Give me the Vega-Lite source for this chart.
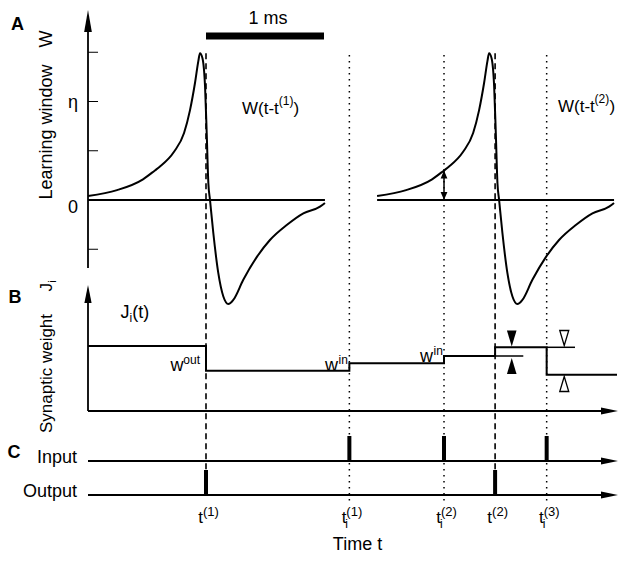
{
"$schema": "https://vega.github.io/schema/vega-lite/v6.json",
"width": 620, "height": 562, "padding": 0, "autosize": {"type": "none"},
"background": "white",
"config": {"view": {"stroke": null}, "text": {"font": "Liberation Sans", "fontSize": 17, "color": "black"}},
"datasets": {
"aTicks": [{"t":0,"t2":0.085,"W":1.5},{"t":0,"t2":0.085,"W":1},{"t":0,"t2":0.085,"W":0.5},{"t":0,"t2":0.085,"W":-0.5}],
"aAxis": [{"t":0,"W":-0.69,"W2":1.8}],
"aArrow": [{"t":0,"W":1.929}],
"zeroLines": [{"t":0,"t2":2.008,"W":0},{"t":2.45,"t2":4.458,"W":0}],
"curves": [
{"t":0.000,"W":0.04,"curve":1},{"t":0.246,"W":0.10,"curve":1},{"t":0.466,"W":0.21,"curve":1},{"t":0.567,"W":0.30,"curve":1},{"t":0.610,"W":0.34,"curve":1},{"t":0.729,"W":0.49,"curve":1},{"t":0.814,"W":0.68,"curve":1},{"t":0.864,"W":0.91,"curve":1},{"t":0.907,"W":1.19,"curve":1},{"t":0.935,"W":1.41,"curve":1},{"t":0.949,"W":1.49,"curve":1},{"t":0.970,"W":1.44,"curve":1},{"t":0.992,"W":1.15,"curve":1},{"t":1.006,"W":0.68,"curve":1},{"t":1.020,"W":0.17,"curve":1},{"t":1.034,"W":0.0,"curve":1},{"t":1.062,"W":-0.335,"curve":1},{"t":1.104,"W":-0.74,"curve":1},{"t":1.147,"W":-0.98,"curve":1},{"t":1.189,"W":-1.056,"curve":1},{"t":1.231,"W":-1.015,"curve":1},{"t":1.316,"W":-0.81,"curve":1},{"t":1.430,"W":-0.58,"curve":1},{"t":1.542,"W":-0.406,"curve":1},{"t":1.684,"W":-0.254,"curve":1},{"t":1.825,"W":-0.135,"curve":1},{"t":1.966,"W":-0.068,"curve":1},{"t":2.008,"W":-0.03,"curve":1},
{"t":2.450,"W":0.04,"curve":2},{"t":2.696,"W":0.10,"curve":2},{"t":2.916,"W":0.21,"curve":2},{"t":3.017,"W":0.30,"curve":2},{"t":3.060,"W":0.34,"curve":2},{"t":3.179,"W":0.49,"curve":2},{"t":3.264,"W":0.68,"curve":2},{"t":3.314,"W":0.91,"curve":2},{"t":3.357,"W":1.19,"curve":2},{"t":3.385,"W":1.41,"curve":2},{"t":3.399,"W":1.49,"curve":2},{"t":3.420,"W":1.44,"curve":2},{"t":3.442,"W":1.15,"curve":2},{"t":3.456,"W":0.68,"curve":2},{"t":3.470,"W":0.17,"curve":2},{"t":3.484,"W":0.0,"curve":2},{"t":3.512,"W":-0.335,"curve":2},{"t":3.554,"W":-0.74,"curve":2},{"t":3.597,"W":-0.98,"curve":2},{"t":3.639,"W":-1.056,"curve":2},{"t":3.681,"W":-1.015,"curve":2},{"t":3.766,"W":-0.81,"curve":2},{"t":3.880,"W":-0.58,"curve":2},{"t":3.992,"W":-0.406,"curve":2},{"t":4.134,"W":-0.254,"curve":2},{"t":4.275,"W":-0.135,"curve":2},{"t":4.416,"W":-0.068,"curve":2},{"t":4.458,"W":-0.03,"curve":2}
],
"scaleBar": [{"t":1.0,"t2":2.0,"W":1.665}],
"dashed": [{"t":1.0,"W":1.49,"W2":-2.741},{"t":3.45,"W":1.49,"W2":-2.741}],
"dotted": [{"t":2.215,"W":1.472,"W2":-3.07},{"t":3.017,"W":1.472,"W2":-3.07},{"t":3.887,"W":1.472,"W2":-3.07}],
"dArrow": [{"t":3.017,"W":0,"W2":0.30}],
"dArrowUp": [{"t":3.017,"W":0.30}],
"dArrowDown": [{"t":3.017,"W":0}],
"aBold": [{"t":-0.597,"W":1.726,"label":"A"}],
"aCenter": [{"t":1.525,"W":1.787,"label":"1 ms"},{"t":-0.127,"W":0.934,"label":"η"},{"t":-0.127,"W":-0.13,"label":"0"}],
"aLeft": [{"t":1.305,"W":0.873,"label":"W(t-t"},{"t":1.742,"W":0.873,"label":")"},{"t":3.983,"W":0.893,"label":"W(t-t"},{"t":4.419,"W":0.893,"label":")"}],
"aSup": [{"t":1.617,"W":0.964,"label":"(1)"},{"t":4.292,"W":0.985,"label":"(2)"}],
"aRot": [{"t":-0.301,"W":0.690,"label":"Learning window"},{"t":-0.301,"W":1.634,"label":"W"}],
"bAxisV": [{"t":0,"J":0,"J2":11.2}],
"bArrowUp": [{"t":0,"J":12.6}],
"bAxisH": [{"t":0,"t2":4.40,"J":0}],
"bArrowRight": [{"t":4.4915,"J":0}],
"step": [{"t":0,"J":6.5},{"t":1.0,"J":4.03},{"t":2.215,"J":4.77},{"t":3.017,"J":5.5},{"t":3.45,"J":6.37},{"t":3.887,"J":3.63},{"t":4.483,"J":3.63}],
"bShort": [{"t":3.45,"t2":3.689,"J":5.5},{"t":3.887,"t2":4.127,"J":6.37}],
"triFillDown": [{"t":3.591,"J":6.45}],
"triFillUp": [{"t":3.591,"J":5.3}],
"triOpenDown": [{"t":4.036,"J":6.55}],
"triOpenUp": [{"t":4.036,"J":3.45}],
"bBold": [{"t":-0.619,"J":10.77,"label":"B"}],
"bRot": [{"t":-0.301,"J":3.75,"label":"Synaptic weight"},{"t":-0.301,"J":12.37,"label":"J"}],
"bRotSub": [{"t":-0.267,"J":12.95,"label":"i"}],
"bLeft": [{"t":0.275,"J":9.27,"label":"J"},{"t":0.375,"J":9.27,"label":"(t)"}],
"bSub": [{"t":0.352,"J":8.9,"label":"i"}],
"bW": [{"t":0.809,"J":4.0,"label":"w"},{"t":2.119,"J":4.0,"label":"w"},{"t":2.924,"J":4.9,"label":"w"}],
"bSup": [{"t":0.949,"J":4.7,"label":"out"},{"t":2.203,"J":4.7,"label":"in"},{"t":3.008,"J":5.6,"label":"in"}],
"cLines": [{"t":0,"t2":4.40,"c":0},{"t":0,"t2":4.40,"c":1}],
"cArrows": [{"t":4.4915,"c":0},{"t":4.4915,"c":1}],
"inSpikes": [{"t":2.215,"c":1,"c2":1.735},{"t":3.017,"c":1,"c2":1.735},{"t":3.887,"c":1,"c2":1.735}],
"outSpikes": [{"t":1.0,"c":0,"c2":0.735},{"t":3.45,"c":0,"c2":0.735}],
"cBold": [{"t":-0.627,"c":1.079,"label":"C"}],
"cRight": [{"t":-0.093,"c":0.95,"label":"Input"},{"t":-0.093,"c":-0.05,"label":"Output"}],
"cT": [{"t":1.0,"c":-0.832,"label":"t"},{"t":2.215,"c":-0.832,"label":"t"},{"t":3.017,"c":-0.832,"label":"t"},{"t":3.45,"c":-0.832,"label":"t"},{"t":3.887,"c":-0.832,"label":"t"}],
"cSup": [{"t":1.0,"c":-0.603,"label":"(1)"},{"t":2.215,"c":-0.603,"label":"(1)"},{"t":3.017,"c":-0.603,"label":"(2)"},{"t":3.45,"c":-0.603,"label":"(2)"},{"t":3.887,"c":-0.603,"label":"(3)"}],
"cSub": [{"t":2.215,"c":-0.97,"label":"i"},{"t":3.017,"c":-0.97,"label":"i"},{"t":3.887,"c":-0.97,"label":"i"}],
"cTime": [{"t":2.284,"c":-1.618,"label":"Time t"}]
},
"layer": [
{
"layer": [
{"data":{"name":"dotted"},"mark":{"type":"rule","strokeWidth":1.5,"strokeDash":[1.5,4.5],"color":"black"},
 "encoding":{"x":{"field":"t","type":"quantitative","scale":{"domain":[-0.745763,4.508475],"nice":false,"zero":false},"axis":null},
 "y":{"field":"W","type":"quantitative","scale":{"domain":[-3.67513,2.03046],"nice":false,"zero":false},"axis":null},"y2":{"field":"W2"}}},
{"data":{"name":"dashed"},"mark":{"type":"rule","strokeWidth":1.6,"strokeDash":[6,4],"color":"black"},
 "encoding":{"x":{"field":"t","type":"quantitative","scale":{"domain":[-0.745763,4.508475],"nice":false,"zero":false},"axis":null},
 "y":{"field":"W","type":"quantitative","scale":{"domain":[-3.67513,2.03046],"nice":false,"zero":false},"axis":null},"y2":{"field":"W2"}}},
{"data":{"name":"aTicks"},"mark":{"type":"rule","strokeWidth":1,"color":"black"},
 "encoding":{"x":{"field":"t","type":"quantitative","scale":{"domain":[-0.745763,4.508475],"nice":false,"zero":false},"axis":null},"x2":{"field":"t2"},
 "y":{"field":"W","type":"quantitative","scale":{"domain":[-3.67513,2.03046],"nice":false,"zero":false},"axis":null}}},
{"data":{"name":"aAxis"},"mark":{"type":"rule","strokeWidth":1.8,"color":"black"},
 "encoding":{"x":{"field":"t","type":"quantitative","scale":{"domain":[-0.745763,4.508475],"nice":false,"zero":false},"axis":null},
 "y":{"field":"W","type":"quantitative","scale":{"domain":[-3.67513,2.03046],"nice":false,"zero":false},"axis":null},"y2":{"field":"W2"}}},
{"data":{"name":"aArrow"},"mark":{"type":"point","shape":"M0,0L-0.35,2L0.35,2Z","size":484,"filled":true,"color":"black","opacity":1,"strokeWidth":0},
 "encoding":{"x":{"field":"t","type":"quantitative","scale":{"domain":[-0.745763,4.508475],"nice":false,"zero":false},"axis":null},
 "y":{"field":"W","type":"quantitative","scale":{"domain":[-3.67513,2.03046],"nice":false,"zero":false},"axis":null}}},
{"data":{"name":"zeroLines"},"mark":{"type":"rule","strokeWidth":2.2,"color":"black"},
 "encoding":{"x":{"field":"t","type":"quantitative","scale":{"domain":[-0.745763,4.508475],"nice":false,"zero":false},"axis":null},"x2":{"field":"t2"},
 "y":{"field":"W","type":"quantitative","scale":{"domain":[-3.67513,2.03046],"nice":false,"zero":false},"axis":null}}},
{"data":{"name":"curves"},"mark":{"type":"line","interpolate":"monotone","strokeWidth":2,"color":"black"},
 "encoding":{"x":{"field":"t","type":"quantitative","scale":{"domain":[-0.745763,4.508475],"nice":false,"zero":false},"axis":null},
 "y":{"field":"W","type":"quantitative","scale":{"domain":[-3.67513,2.03046],"nice":false,"zero":false},"axis":null},"detail":{"field":"curve"}}},
{"data":{"name":"scaleBar"},"mark":{"type":"rule","strokeWidth":7,"color":"black"},
 "encoding":{"x":{"field":"t","type":"quantitative","scale":{"domain":[-0.745763,4.508475],"nice":false,"zero":false},"axis":null},"x2":{"field":"t2"},
 "y":{"field":"W","type":"quantitative","scale":{"domain":[-3.67513,2.03046],"nice":false,"zero":false},"axis":null}}},
{"data":{"name":"dArrow"},"mark":{"type":"rule","strokeWidth":1.5,"color":"black"},
 "encoding":{"x":{"field":"t","type":"quantitative","scale":{"domain":[-0.745763,4.508475],"nice":false,"zero":false},"axis":null},
 "y":{"field":"W","type":"quantitative","scale":{"domain":[-3.67513,2.03046],"nice":false,"zero":false},"axis":null},"y2":{"field":"W2"}}},
{"data":{"name":"dArrowUp"},"mark":{"type":"point","shape":"M0,0L-0.85,2L0.85,2Z","size":64,"filled":true,"color":"black","opacity":1,"strokeWidth":0},
 "encoding":{"x":{"field":"t","type":"quantitative","scale":{"domain":[-0.745763,4.508475],"nice":false,"zero":false},"axis":null},
 "y":{"field":"W","type":"quantitative","scale":{"domain":[-3.67513,2.03046],"nice":false,"zero":false},"axis":null}}},
{"data":{"name":"dArrowDown"},"mark":{"type":"point","shape":"M0,0L-0.85,-2L0.85,-2Z","size":64,"filled":true,"color":"black","opacity":1,"strokeWidth":0},
 "encoding":{"x":{"field":"t","type":"quantitative","scale":{"domain":[-0.745763,4.508475],"nice":false,"zero":false},"axis":null},
 "y":{"field":"W","type":"quantitative","scale":{"domain":[-3.67513,2.03046],"nice":false,"zero":false},"axis":null}}},
{"data":{"name":"aBold"},"mark":{"type":"text","fontWeight":"bold","fontSize":18,"align":"center","baseline":"alphabetic"},
 "encoding":{"x":{"field":"t","type":"quantitative","scale":{"domain":[-0.745763,4.508475],"nice":false,"zero":false},"axis":null},
 "y":{"field":"W","type":"quantitative","scale":{"domain":[-3.67513,2.03046],"nice":false,"zero":false},"axis":null},"text":{"field":"label"}}},
{"data":{"name":"aCenter"},"mark":{"type":"text","fontSize":18,"align":"center","baseline":"alphabetic"},
 "encoding":{"x":{"field":"t","type":"quantitative","scale":{"domain":[-0.745763,4.508475],"nice":false,"zero":false},"axis":null},
 "y":{"field":"W","type":"quantitative","scale":{"domain":[-3.67513,2.03046],"nice":false,"zero":false},"axis":null},"text":{"field":"label"}}},
{"data":{"name":"aLeft"},"mark":{"type":"text","fontSize":17,"align":"left","baseline":"alphabetic"},
 "encoding":{"x":{"field":"t","type":"quantitative","scale":{"domain":[-0.745763,4.508475],"nice":false,"zero":false},"axis":null},
 "y":{"field":"W","type":"quantitative","scale":{"domain":[-3.67513,2.03046],"nice":false,"zero":false},"axis":null},"text":{"field":"label"}}},
{"data":{"name":"aSup"},"mark":{"type":"text","fontSize":12,"align":"left","baseline":"alphabetic"},
 "encoding":{"x":{"field":"t","type":"quantitative","scale":{"domain":[-0.745763,4.508475],"nice":false,"zero":false},"axis":null},
 "y":{"field":"W","type":"quantitative","scale":{"domain":[-3.67513,2.03046],"nice":false,"zero":false},"axis":null},"text":{"field":"label"}}},
{"data":{"name":"aRot"},"mark":{"type":"text","fontSize":18,"align":"center","baseline":"alphabetic","angle":270},
 "encoding":{"x":{"field":"t","type":"quantitative","scale":{"domain":[-0.745763,4.508475],"nice":false,"zero":false},"axis":null},
 "y":{"field":"W","type":"quantitative","scale":{"domain":[-3.67513,2.03046],"nice":false,"zero":false},"axis":null},"text":{"field":"label"}}}
]
},
{
"layer": [
{"data":{"name":"bAxisV"},"mark":{"type":"rule","strokeWidth":1.8,"color":"black"},
 "encoding":{"x":{"field":"t","type":"quantitative","scale":{"domain":[-0.745763,4.508475],"nice":false,"zero":false},"axis":null},
 "y":{"field":"J","type":"quantitative","scale":{"domain":[-15.1,41.1],"nice":false,"zero":false},"axis":null},"y2":{"field":"J2"}}},
{"data":{"name":"bArrowUp"},"mark":{"type":"point","shape":"M0,0L-0.4,2L0.4,2Z","size":324,"filled":true,"color":"black","opacity":1,"strokeWidth":0},
 "encoding":{"x":{"field":"t","type":"quantitative","scale":{"domain":[-0.745763,4.508475],"nice":false,"zero":false},"axis":null},
 "y":{"field":"J","type":"quantitative","scale":{"domain":[-15.1,41.1],"nice":false,"zero":false},"axis":null}}},
{"data":{"name":"bAxisH"},"mark":{"type":"rule","strokeWidth":1.8,"color":"black"},
 "encoding":{"x":{"field":"t","type":"quantitative","scale":{"domain":[-0.745763,4.508475],"nice":false,"zero":false},"axis":null},"x2":{"field":"t2"},
 "y":{"field":"J","type":"quantitative","scale":{"domain":[-15.1,41.1],"nice":false,"zero":false},"axis":null}}},
{"data":{"name":"bArrowRight"},"mark":{"type":"point","shape":"M0,0L-2,-0.4L-2,0.4Z","size":289,"filled":true,"color":"black","opacity":1,"strokeWidth":0},
 "encoding":{"x":{"field":"t","type":"quantitative","scale":{"domain":[-0.745763,4.508475],"nice":false,"zero":false},"axis":null},
 "y":{"field":"J","type":"quantitative","scale":{"domain":[-15.1,41.1],"nice":false,"zero":false},"axis":null}}},
{"data":{"name":"step"},"mark":{"type":"line","interpolate":"step-after","strokeWidth":2,"color":"black"},
 "encoding":{"x":{"field":"t","type":"quantitative","scale":{"domain":[-0.745763,4.508475],"nice":false,"zero":false},"axis":null},
 "y":{"field":"J","type":"quantitative","scale":{"domain":[-15.1,41.1],"nice":false,"zero":false},"axis":null}}},
{"data":{"name":"bShort"},"mark":{"type":"rule","strokeWidth":1.5,"color":"black"},
 "encoding":{"x":{"field":"t","type":"quantitative","scale":{"domain":[-0.745763,4.508475],"nice":false,"zero":false},"axis":null},"x2":{"field":"t2"},
 "y":{"field":"J","type":"quantitative","scale":{"domain":[-15.1,41.1],"nice":false,"zero":false},"axis":null}}},
{"data":{"name":"triFillDown"},"mark":{"type":"point","shape":"M0,0L-0.6,-2L0.6,-2Z","size":256,"filled":true,"color":"black","opacity":1,"strokeWidth":0},
 "encoding":{"x":{"field":"t","type":"quantitative","scale":{"domain":[-0.745763,4.508475],"nice":false,"zero":false},"axis":null},
 "y":{"field":"J","type":"quantitative","scale":{"domain":[-15.1,41.1],"nice":false,"zero":false},"axis":null}}},
{"data":{"name":"triFillUp"},"mark":{"type":"point","shape":"M0,0L-0.6,2L0.6,2Z","size":256,"filled":true,"color":"black","opacity":1,"strokeWidth":0},
 "encoding":{"x":{"field":"t","type":"quantitative","scale":{"domain":[-0.745763,4.508475],"nice":false,"zero":false},"axis":null},
 "y":{"field":"J","type":"quantitative","scale":{"domain":[-15.1,41.1],"nice":false,"zero":false},"axis":null}}},
{"data":{"name":"triOpenDown"},"mark":{"type":"point","shape":"M0,0L-0.6,-2L0.6,-2Z","size":225,"filled":true,"fill":"white","stroke":"black","strokeWidth":1.3,"opacity":1},
 "encoding":{"x":{"field":"t","type":"quantitative","scale":{"domain":[-0.745763,4.508475],"nice":false,"zero":false},"axis":null},
 "y":{"field":"J","type":"quantitative","scale":{"domain":[-15.1,41.1],"nice":false,"zero":false},"axis":null}}},
{"data":{"name":"triOpenUp"},"mark":{"type":"point","shape":"M0,0L-0.6,2L0.6,2Z","size":225,"filled":true,"fill":"white","stroke":"black","strokeWidth":1.3,"opacity":1},
 "encoding":{"x":{"field":"t","type":"quantitative","scale":{"domain":[-0.745763,4.508475],"nice":false,"zero":false},"axis":null},
 "y":{"field":"J","type":"quantitative","scale":{"domain":[-15.1,41.1],"nice":false,"zero":false},"axis":null}}},
{"data":{"name":"bBold"},"mark":{"type":"text","fontWeight":"bold","fontSize":18,"align":"center","baseline":"alphabetic"},
 "encoding":{"x":{"field":"t","type":"quantitative","scale":{"domain":[-0.745763,4.508475],"nice":false,"zero":false},"axis":null},
 "y":{"field":"J","type":"quantitative","scale":{"domain":[-15.1,41.1],"nice":false,"zero":false},"axis":null},"text":{"field":"label"}}},
{"data":{"name":"bRot"},"mark":{"type":"text","fontSize":17,"align":"center","baseline":"alphabetic","angle":270},
 "encoding":{"x":{"field":"t","type":"quantitative","scale":{"domain":[-0.745763,4.508475],"nice":false,"zero":false},"axis":null},
 "y":{"field":"J","type":"quantitative","scale":{"domain":[-15.1,41.1],"nice":false,"zero":false},"axis":null},"text":{"field":"label"}}},
{"data":{"name":"bRotSub"},"mark":{"type":"text","fontSize":11,"align":"center","baseline":"alphabetic","angle":270},
 "encoding":{"x":{"field":"t","type":"quantitative","scale":{"domain":[-0.745763,4.508475],"nice":false,"zero":false},"axis":null},
 "y":{"field":"J","type":"quantitative","scale":{"domain":[-15.1,41.1],"nice":false,"zero":false},"axis":null},"text":{"field":"label"}}},
{"data":{"name":"bLeft"},"mark":{"type":"text","fontSize":18,"align":"left","baseline":"alphabetic"},
 "encoding":{"x":{"field":"t","type":"quantitative","scale":{"domain":[-0.745763,4.508475],"nice":false,"zero":false},"axis":null},
 "y":{"field":"J","type":"quantitative","scale":{"domain":[-15.1,41.1],"nice":false,"zero":false},"axis":null},"text":{"field":"label"}}},
{"data":{"name":"bSub"},"mark":{"type":"text","fontSize":12,"align":"left","baseline":"alphabetic"},
 "encoding":{"x":{"field":"t","type":"quantitative","scale":{"domain":[-0.745763,4.508475],"nice":false,"zero":false},"axis":null},
 "y":{"field":"J","type":"quantitative","scale":{"domain":[-15.1,41.1],"nice":false,"zero":false},"axis":null},"text":{"field":"label"}}},
{"data":{"name":"bW"},"mark":{"type":"text","fontSize":18,"align":"right","baseline":"alphabetic"},
 "encoding":{"x":{"field":"t","type":"quantitative","scale":{"domain":[-0.745763,4.508475],"nice":false,"zero":false},"axis":null},
 "y":{"field":"J","type":"quantitative","scale":{"domain":[-15.1,41.1],"nice":false,"zero":false},"axis":null},"text":{"field":"label"}}},
{"data":{"name":"bSup"},"mark":{"type":"text","fontSize":12,"align":"right","baseline":"alphabetic"},
 "encoding":{"x":{"field":"t","type":"quantitative","scale":{"domain":[-0.745763,4.508475],"nice":false,"zero":false},"axis":null},
 "y":{"field":"J","type":"quantitative","scale":{"domain":[-15.1,41.1],"nice":false,"zero":false},"axis":null},"text":{"field":"label"}}}
]
},
{
"layer": [
{"data":{"name":"cLines"},"mark":{"type":"rule","strokeWidth":1.8,"color":"black"},
 "encoding":{"x":{"field":"t","type":"quantitative","scale":{"domain":[-0.745763,4.508475],"nice":false,"zero":false},"axis":null},"x2":{"field":"t2"},
 "y":{"field":"c","type":"quantitative","scale":{"domain":[-1.97059,14.55882],"nice":false,"zero":false},"axis":null}}},
{"data":{"name":"cArrows"},"mark":{"type":"point","shape":"M0,0L-2,-0.4L-2,0.4Z","size":289,"filled":true,"color":"black","opacity":1,"strokeWidth":0},
 "encoding":{"x":{"field":"t","type":"quantitative","scale":{"domain":[-0.745763,4.508475],"nice":false,"zero":false},"axis":null},
 "y":{"field":"c","type":"quantitative","scale":{"domain":[-1.97059,14.55882],"nice":false,"zero":false},"axis":null}}},
{"data":{"name":"inSpikes"},"mark":{"type":"rule","strokeWidth":4,"color":"black"},
 "encoding":{"x":{"field":"t","type":"quantitative","scale":{"domain":[-0.745763,4.508475],"nice":false,"zero":false},"axis":null},
 "y":{"field":"c","type":"quantitative","scale":{"domain":[-1.97059,14.55882],"nice":false,"zero":false},"axis":null},"y2":{"field":"c2"}}},
{"data":{"name":"outSpikes"},"mark":{"type":"rule","strokeWidth":4,"color":"black"},
 "encoding":{"x":{"field":"t","type":"quantitative","scale":{"domain":[-0.745763,4.508475],"nice":false,"zero":false},"axis":null},
 "y":{"field":"c","type":"quantitative","scale":{"domain":[-1.97059,14.55882],"nice":false,"zero":false},"axis":null},"y2":{"field":"c2"}}},
{"data":{"name":"cBold"},"mark":{"type":"text","fontWeight":"bold","fontSize":18,"align":"center","baseline":"alphabetic"},
 "encoding":{"x":{"field":"t","type":"quantitative","scale":{"domain":[-0.745763,4.508475],"nice":false,"zero":false},"axis":null},
 "y":{"field":"c","type":"quantitative","scale":{"domain":[-1.97059,14.55882],"nice":false,"zero":false},"axis":null},"text":{"field":"label"}}},
{"data":{"name":"cRight"},"mark":{"type":"text","fontSize":18,"align":"right","baseline":"alphabetic"},
 "encoding":{"x":{"field":"t","type":"quantitative","scale":{"domain":[-0.745763,4.508475],"nice":false,"zero":false},"axis":null},
 "y":{"field":"c","type":"quantitative","scale":{"domain":[-1.97059,14.55882],"nice":false,"zero":false},"axis":null},"text":{"field":"label"}}},
{"data":{"name":"cT"},"mark":{"type":"text","fontSize":17,"align":"right","baseline":"alphabetic","dx":-3},
 "encoding":{"x":{"field":"t","type":"quantitative","scale":{"domain":[-0.745763,4.508475],"nice":false,"zero":false},"axis":null},
 "y":{"field":"c","type":"quantitative","scale":{"domain":[-1.97059,14.55882],"nice":false,"zero":false},"axis":null},"text":{"field":"label"}}},
{"data":{"name":"cSup"},"mark":{"type":"text","fontSize":13,"align":"left","baseline":"alphabetic","dx":-3},
 "encoding":{"x":{"field":"t","type":"quantitative","scale":{"domain":[-0.745763,4.508475],"nice":false,"zero":false},"axis":null},
 "y":{"field":"c","type":"quantitative","scale":{"domain":[-1.97059,14.55882],"nice":false,"zero":false},"axis":null},"text":{"field":"label"}}},
{"data":{"name":"cSub"},"mark":{"type":"text","fontSize":12,"align":"left","baseline":"alphabetic","dx":-4},
 "encoding":{"x":{"field":"t","type":"quantitative","scale":{"domain":[-0.745763,4.508475],"nice":false,"zero":false},"axis":null},
 "y":{"field":"c","type":"quantitative","scale":{"domain":[-1.97059,14.55882],"nice":false,"zero":false},"axis":null},"text":{"field":"label"}}},
{"data":{"name":"cTime"},"mark":{"type":"text","fontSize":18,"align":"center","baseline":"alphabetic"},
 "encoding":{"x":{"field":"t","type":"quantitative","scale":{"domain":[-0.745763,4.508475],"nice":false,"zero":false},"axis":null},
 "y":{"field":"c","type":"quantitative","scale":{"domain":[-1.97059,14.55882],"nice":false,"zero":false},"axis":null},"text":{"field":"label"}}}
]
}
],
"resolve": {"scale": {"y": "independent"}}
}
